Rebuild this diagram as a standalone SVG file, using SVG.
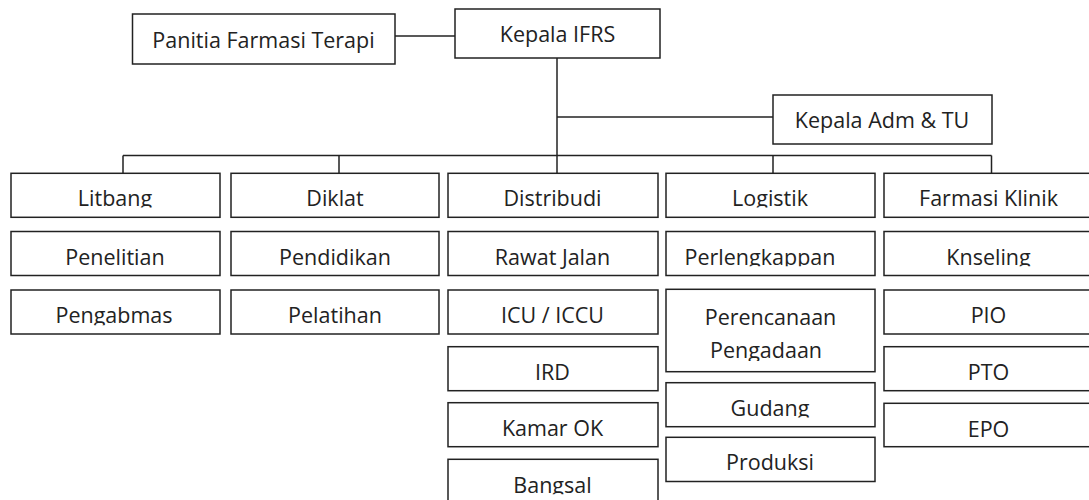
<svg xmlns="http://www.w3.org/2000/svg" width="1089" height="500" viewBox="0 0 1089 500">
<style>
.box{fill:#fff;stroke:#222;stroke-width:1.5}
.ln{fill:none;stroke:#222;stroke-width:1.5}
.t{font-family:"Open Sans","Noto Sans","Liberation Sans",sans-serif;font-size:21.5px;fill:#222;text-anchor:middle}
</style>
<defs>
<clipPath id="cR1"><rect x="0" y="0" width="1089" height="207.6"/></clipPath>
<clipPath id="cR2"><rect x="0" y="0" width="1089" height="266.3"/></clipPath>
<clipPath id="cR3"><rect x="0" y="0" width="1089" height="325.2"/></clipPath>
<clipPath id="cPg"><rect x="0" y="0" width="1089" height="361"/></clipPath>
<clipPath id="cGd"><rect x="0" y="0" width="1089" height="417.6"/></clipPath>
<clipPath id="cBg"><rect x="0" y="0" width="1089" height="494.3"/></clipPath>
</defs>
<g id="connectors">
<path class="ln" d="M395 36 H455"/>
<path class="ln" d="M557 58 V173.3"/>
<path class="ln" d="M557 117 H773"/>
<path class="ln" d="M123 155.5 H991.5"/>
<path class="ln" d="M123 155.5 V173.3 M339 155.5 V173.3 M773 155.5 V173.3 M991.5 155.5 V173.3"/>
</g>
<g id="panitia"><rect class="box" x="132.5" y="14" width="262.5" height="50"/><text class="t" x="263.5" y="48">Panitia Farmasi Terapi</text></g>
<g id="kepala-ifrs"><rect class="box" x="455" y="9" width="205" height="49"/><text class="t" x="557.5" y="42">Kepala IFRS</text></g>
<g id="kepala-adm"><rect class="box" x="773" y="95" width="219" height="49"/><text class="t" x="882" y="128">Kepala Adm &amp; TU</text></g>

<g id="litbang"><rect class="box" x="11" y="173.3" width="209" height="44"/><text class="t" x="115" y="206.3" clip-path="url(#cR1)">Litbang</text></g>
<g id="penelitian"><rect class="box" x="11" y="231.5" width="209" height="44"/><text class="t" x="115" y="264.8">Penelitian</text></g>
<g id="pengabmas"><rect class="box" x="11" y="290" width="209" height="44"/><text class="t" x="114" y="323.4" clip-path="url(#cR3)">Pengabmas</text></g>

<g id="diklat"><rect class="box" x="231" y="173.3" width="208" height="44"/><text class="t" x="335" y="206.3">Diklat</text></g>
<g id="pendidikan"><rect class="box" x="231" y="231.5" width="208" height="44"/><text class="t" x="335" y="264.8">Pendidikan</text></g>
<g id="pelatihan"><rect class="box" x="231" y="290" width="208" height="44"/><text class="t" x="335" y="323.4">Pelatihan</text></g>

<g id="distribudi"><rect class="box" x="448" y="173.3" width="210" height="44"/><text class="t" x="552.5" y="206.3">Distribudi</text></g>
<g id="rawat-jalan"><rect class="box" x="448" y="231.5" width="210" height="44"/><text class="t" x="552.5" y="264.8">Rawat Jalan</text></g>
<g id="icu"><rect class="box" x="448" y="290" width="210" height="44"/><text class="t" x="552.5" y="323.4">ICU / ICCU</text></g>
<g id="ird"><rect class="box" x="448" y="346.7" width="210" height="44"/><text class="t" x="552.5" y="380">IRD</text></g>
<g id="kamar-ok"><rect class="box" x="448" y="402.7" width="210" height="44"/><text class="t" x="552.5" y="436.2">Kamar OK</text></g>
<g id="bangsal"><rect class="box" x="448" y="459.3" width="210" height="44"/><text class="t" x="552.5" y="492.7" clip-path="url(#cBg)">Bangsal</text></g>

<g id="logistik"><rect class="box" x="666" y="173.3" width="209" height="44"/><text class="t" x="770" y="206.3" clip-path="url(#cR1)">Logistik</text></g>
<g id="perlengkappan"><rect class="box" x="666" y="231.5" width="209" height="44"/><text class="t" x="760" y="264.8" clip-path="url(#cR2)">Perlengkappan</text></g>
<g id="perencanaan"><rect class="box" x="666" y="289.3" width="209" height="82.4"/><text class="t" x="770.5" y="325">Perencanaan</text><text class="t" x="766" y="358.3" clip-path="url(#cPg)">Pengadaan</text></g>
<g id="gudang"><rect class="box" x="666" y="382.7" width="209" height="44"/><text class="t" x="770" y="416.2" clip-path="url(#cGd)">Gudang</text></g>
<g id="produksi"><rect class="box" x="666" y="437.3" width="209" height="44.2"/><text class="t" x="770" y="470.3">Produksi</text></g>

<g id="farmasi-klinik"><rect class="box" x="884" y="173.3" width="209" height="44"/><text class="t" x="988.5" y="206.3">Farmasi Klinik</text></g>
<g id="knseling"><rect class="box" x="884" y="231.5" width="209" height="44"/><text class="t" x="988.5" y="264.8" clip-path="url(#cR2)">Knseling</text></g>
<g id="pio"><rect class="box" x="884" y="290" width="209" height="44"/><text class="t" x="988.5" y="323.4">PIO</text></g>
<g id="pto"><rect class="box" x="884" y="346.7" width="209" height="44"/><text class="t" x="988.5" y="380">PTO</text></g>
<g id="epo"><rect class="box" x="884" y="403.3" width="209" height="43.4"/><text class="t" x="988.5" y="436.5">EPO</text></g>
</svg>
